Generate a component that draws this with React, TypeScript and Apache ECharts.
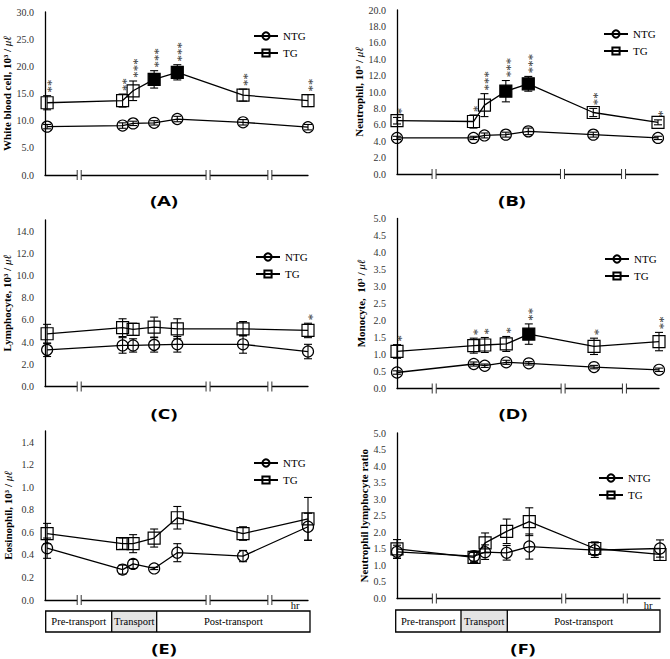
import React, { useEffect, useRef } from 'react';
import * as echarts from 'echarts';

// ---------- data ----------
const timePointsLeft = [0.08, 2.95, 3.35, 4.15, 5.03, 7.53, 10];
const timePointsRight = [0.0, 2.93, 3.35, 4.17, 5.03, 7.52, 10];
const breaksLeft = [1.3, 6.2, 8.55];
const breaksRight = [1.42, 6.34, 8.68];

const wbcNTG = [8.9, 9.1, 9.5, 9.6, 10.3, 9.7, 8.8];
const wbcNTGErr = [0.4, 0.5, 0.4, 0.4, 0.5, 0.5, 0.5];
const wbcTG = [13.3, 13.7, 15.5, 17.6, 18.9, 14.7, 13.7];
const wbcTGErr = [1.3, 1.2, 1.8, 1.6, 1.4, 1.1, 1.1];
const wbcSig = ['**', '**', '***', '***', '***', '**', '**'];
const wbcFilled = [3, 4];

const neuNTG = [4.4, 4.4, 4.7, 4.8, 5.2, 4.8, 4.4];
const neuNTGErr = [0.2, 0.2, 0.3, 0.3, 0.4, 0.3, 0.2];
const neuTG = [6.5, 6.4, 8.4, 10.1, 11.0, 7.5, 6.3];
const neuTGErr = [0.4, 0.8, 1.4, 1.3, 0.9, 0.5, 0.3];
const neuSig = ['*', '*', '***', '***', '***', '**', '*'];
const neuFilled = [3, 4];

const lymNTG = [3.3, 3.7, 3.7, 3.75, 3.8, 3.8, 3.15];
const lymNTGErr = [0.6, 0.7, 0.6, 0.65, 0.7, 0.8, 0.65];
const lymTG = [4.75, 5.3, 5.15, 5.35, 5.2, 5.2, 5.05];
const lymTGErr = [0.85, 0.8, 0.55, 0.9, 0.9, 0.65, 0.65];
const lymSig = ['', '', '', '', '', '', '*'];
const lymFilled: number[] = [];

const monNTG = [0.47, 0.72, 0.67, 0.77, 0.74, 0.63, 0.55];
const monNTGErr = [0.05, 0.06, 0.05, 0.06, 0.05, 0.05, 0.05];
const monTG = [1.09, 1.26, 1.28, 1.31, 1.6, 1.24, 1.38];
const monTGErr = [0.2, 0.22, 0.22, 0.22, 0.3, 0.24, 0.27];
const monSig = ['*', '*', '*', '*', '**', '*', '**'];
const monFilled = [4];

const eosNTG = [0.46, 0.27, 0.32, 0.28, 0.42, 0.39, 0.65];
const eosNTGErr = [0.09, 0.04, 0.04, 0.01, 0.08, 0.05, 0.12];
const eosTG = [0.59, 0.5, 0.5, 0.55, 0.73, 0.59, 0.72];
const eosTGErr = [0.09, 0.05, 0.08, 0.08, 0.1, 0.06, 0.19];
const eosSig = ['', '', '', '', '', '', ''];
const eosFilled: number[] = [];

const nlrNTG = [1.41, 1.28, 1.4, 1.38, 1.57, 1.46, 1.51];
const nlrNTGErr = [0.2, 0.15, 0.22, 0.22, 0.38, 0.22, 0.26];
const nlrTG = [1.5, 1.24, 1.68, 2.03, 2.32, 1.51, 1.33];
const nlrTGErr = [0.28, 0.15, 0.3, 0.37, 0.42, 0.2, 0.18];
const nlrSig = ['', '', '', '', '', '', ''];
const nlrFilled: number[] = [];

const periodLabels = ['Pre-transport', 'Transport', 'Post-transport'];
const panelLetters = ['(A)', '(B)', '(C)', '(D)', '(E)', '(F)'];

// ---------- layout ----------
const SERIF = 'Liberation Serif';

const panels = [
  { title: 'White blood cell, 10³ / {i|μℓ}', max: 30, interval: 5, showMax: true, ntg: wbcNTG, ntgErr: wbcNTGErr, tg: wbcTG, tgErr: wbcTGErr, sig: wbcSig, filled: wbcFilled, xs: timePointsLeft, br: breaksLeft,
    grid: { left: 45, top: 12, width: 263, height: 163 }, nameGap: 32, legend: { left: 253, top: 30 }, label: { x: 164, y: 200 } },
  { title: 'Neutrophil, 10³ / {i|μℓ}', max: 20, interval: 2, showMax: true, ntg: neuNTG, ntgErr: neuNTGErr, tg: neuTG, tgErr: neuTGErr, sig: neuSig, filled: neuFilled, xs: timePointsRight, br: breaksRight,
    grid: { left: 397, top: 10, width: 261, height: 164 }, nameGap: 31, legend: { left: 603, top: 28 }, label: { x: 512, y: 200 } },
  { title: 'Lymphocyte, 10³ / {i|μℓ}', max: 15, interval: 2, showMax: false, ntg: lymNTG, ntgErr: lymNTGErr, tg: lymTG, tgErr: lymTGErr, sig: lymSig, filled: lymFilled, xs: timePointsLeft, br: breaksLeft,
    grid: { left: 45, top: 220, width: 263, height: 166.5 }, nameGap: 32, legend: { left: 255, top: 251 }, label: { x: 164, y: 413 } },
  { title: 'Monocyte,  10³ / {i|μℓ}', max: 5, interval: 0.5, showMax: true, ntg: monNTG, ntgErr: monNTGErr, tg: monTG, tgErr: monTGErr, sig: monSig, filled: monFilled, xs: timePointsRight, br: breaksRight,
    grid: { left: 397, top: 218.5, width: 262, height: 170 }, nameGap: 31, legend: { left: 604, top: 253 }, label: { x: 513, y: 413 } },
  { title: 'Eosinophil, 10³ / {i|μℓ}', max: 1.5, interval: 0.2, showMax: false, ntg: eosNTG, ntgErr: eosNTGErr, tg: eosTG, tgErr: eosTGErr, sig: eosSig, filled: eosFilled, xs: timePointsLeft, br: breaksLeft,
    grid: { left: 45, top: 431, width: 263, height: 169 }, nameGap: 32, legend: { left: 253, top: 457 }, label: { x: 164, y: 648 } },
  { title: 'Neutrophil lymphocyte ratio', max: 5, interval: 0.5, showMax: true, ntg: nlrNTG, ntgErr: nlrNTGErr, tg: nlrTG, tgErr: nlrTGErr, sig: nlrSig, filled: nlrFilled, xs: timePointsRight, br: breaksRight,
    grid: { left: 397, top: 433, width: 263, height: 165.5 }, nameGap: 28, legend: { left: 598, top: 472 }, label: { x: 523, y: 648 } },
];

const boxes = [
  { left: 45.7, right: 310, top: 611, bottom: 632, d1: 111.7, d2: 156.7, hr: { x: 295, y: 605 } },
  { left: 395.7, right: 660, top: 610, bottom: 632, d1: 461, d2: 507.3, hr: { x: 648, y: 605 } },
];

function errSeries(i: number, xs: number[], vals: number[], errs: number[], sig: string[] | null, name: string) {
  return {
    type: 'custom',
    name,
    xAxisIndex: i,
    yAxisIndex: i,
    z: 2,
    silent: true,
    clip: false,
    encode: { x: 0, y: 1 },
    data: xs.map((x, j) => [x, vals[j], errs[j]]),
    renderItem: (params: any, api: any) => {
      const x = api.value(0);
      const v = api.value(1);
      const e = api.value(2);
      const top = api.coord([x, v + e]);
      const bot = api.coord([x, v - e]);
      const cap = 4;
      const st = { stroke: '#000', lineWidth: 1.1 };
      const children: any[] = [
        { type: 'line', shape: { x1: top[0], y1: top[1], x2: bot[0], y2: bot[1] }, style: st },
        { type: 'line', shape: { x1: top[0] - cap, y1: top[1], x2: top[0] + cap, y2: top[1] }, style: st },
        { type: 'line', shape: { x1: bot[0] - cap, y1: bot[1], x2: bot[0] + cap, y2: bot[1] }, style: st },
      ];
      const s = sig ? sig[params.dataIndex] : '';
      if (s) {
        children.push({
          type: 'text',
          x: top[0] + 1.2,
          y: top[1] - 3 - s.length * 3.3,
          rotation: -Math.PI / 2,
          style: {
            text: s, fill: '#333', fontFamily: SERIF, fontSize: 13,
            align: 'center', verticalAlign: 'middle',
          },
        });
      }
      return { type: 'group', children };
    },
  };
}

function breakSeries(i: number, br: number[]) {
  return {
    type: 'custom',
    name: 'breaks',
    xAxisIndex: i,
    yAxisIndex: i,
    z: 5,
    silent: true,
    clip: false,
    encode: { x: 0, y: 1 },
    data: br.map((b) => [b, 0]),
    renderItem: (params: any, api: any) => {
      const p = api.coord([api.value(0), 0]);
      const st = { stroke: '#333', lineWidth: 1 };
      return {
        type: 'group',
        children: [
          { type: 'rect', shape: { x: p[0] - 2, y: p[1] - 2, width: 4, height: 4 }, style: { fill: '#fff' } },
          { type: 'line', shape: { x1: p[0] - 2, y1: p[1] - 5, x2: p[0] - 2, y2: p[1] + 5 }, style: st },
          { type: 'line', shape: { x1: p[0] + 2, y1: p[1] - 5, x2: p[0] + 2, y2: p[1] + 5 }, style: st },
        ],
      };
    },
  };
}

function txt(x: number, y: number, text: string, size: number) {
  return {
    type: 'text', x, y,
    style: { text, fontFamily: SERIF, fontSize: size, fill: '#000', align: 'center', verticalAlign: 'middle' },
  };
}

function buildOption() {
  const grid: any[] = [];
  const xAxis: any[] = [];
  const yAxis: any[] = [];
  const series: any[] = [];
  const legend: any[] = [];
  const graphic: any[] = [];

  panels.forEach((p, i) => {
    grid.push({ ...p.grid, containLabel: false, outerBoundsMode: 'none' });
    xAxis.push({
      type: 'value', gridIndex: i, min: 0, max: 10,
      axisLine: { show: true, onZero: false, lineStyle: { color: '#000', width: 1.3 } },
      axisTick: { show: false }, axisLabel: { show: false }, splitLine: { show: false },
    });
    yAxis.push({
      type: 'value', gridIndex: i, min: 0, max: p.max, interval: p.interval,
      name: p.title, nameLocation: 'middle', nameGap: p.nameGap, nameRotate: 90,
      nameTextStyle: {
        fontFamily: SERIF, fontWeight: 'bold', fontSize: 11, color: '#000',
        rich: { i: { fontFamily: SERIF, fontStyle: 'italic', fontWeight: 'normal', fontSize: 11, color: '#000' } },
      },
      axisLine: { show: true, lineStyle: { color: '#000', width: 1.3 } },
      axisTick: { show: false }, splitLine: { show: false },
      axisLabel: {
        showMaxLabel: p.showMax, showMinLabel: true,
        formatter: (v: number) => v.toFixed(1), fontFamily: SERIF, fontSize: 10, color: '#333', margin: 11,
      },
    });
    series.push({
      type: 'line', name: 'NTG', xAxisIndex: i, yAxisIndex: i, z: 3,
      data: p.xs.map((x, j) => [x, p.ntg[j]]),
      symbol: 'circle', symbolSize: 11,
      itemStyle: { color: 'rgba(255,255,255,0)', borderColor: '#000', borderWidth: 1.2 },
      lineStyle: { color: '#000', width: 1.3 },
    });
    series.push({
      type: 'line', name: 'TG', xAxisIndex: i, yAxisIndex: i, z: 3,
      data: p.xs.map((x, j) => (p.filled.includes(j)
        ? { value: [x, p.tg[j]], itemStyle: { color: '#000' } }
        : [x, p.tg[j]])),
      symbol: 'rect', symbolSize: 12,
      itemStyle: { color: 'rgba(255,255,255,0)', borderColor: '#000', borderWidth: 1.2 },
      lineStyle: { color: '#000', width: 1.3 },
    });
    series.push(errSeries(i, p.xs, p.ntg, p.ntgErr, null, 'errNTG'));
    series.push(errSeries(i, p.xs, p.tg, p.tgErr, p.sig, 'errTG'));
    series.push(breakSeries(i, p.br));
    legend.push({
      data: ['NTG', 'TG'], orient: 'vertical', left: p.legend.left, top: p.legend.top, padding: 0,
      itemWidth: 24, itemHeight: 9, itemGap: 5, selectedMode: false,
      textStyle: { fontFamily: SERIF, fontSize: 11, color: '#000', lineHeight: 12 },
    });
    graphic.push({
      type: 'text', x: p.label.x, y: p.label.y, scaleX: 1.35,
      style: { text: panelLetters[i], fontFamily: 'Open Sans', fontWeight: 'bold', fontSize: 15, fill: '#000', align: 'center', verticalAlign: 'middle' },
    });
  });

  boxes.forEach((b) => {
    const st = { stroke: '#000', lineWidth: 1.3 };
    const ty = (b.top + b.bottom) / 2;
    graphic.push(
      { type: 'rect', shape: { x: b.d1, y: b.top, width: b.d2 - b.d1, height: b.bottom - b.top }, style: { fill: '#e4e4e4' } },
      { type: 'rect', shape: { x: b.left, y: b.top, width: b.right - b.left, height: b.bottom - b.top }, style: { fill: 'none', ...st } },
      { type: 'line', shape: { x1: b.d1, y1: b.top, x2: b.d1, y2: b.bottom }, style: st },
      { type: 'line', shape: { x1: b.d2, y1: b.top, x2: b.d2, y2: b.bottom }, style: st },
      txt((b.left + b.d1) / 2, ty, periodLabels[0], 10.5),
      txt((b.d1 + b.d2) / 2, ty, periodLabels[1], 10.5),
      txt((b.d2 + b.right) / 2, ty, periodLabels[2], 10.5),
      txt(b.hr.x, b.hr.y, 'hr', 10.5),
    );
  });

  return {
    animation: false,
    backgroundColor: '#fff',
    grid, xAxis, yAxis, series, legend, graphic,
  };
}

export default function App() {
  const ref = useRef<HTMLDivElement>(null);
  useEffect(() => {
    document.body.style.margin = '0';
    if (!ref.current) return;
    const chart = echarts.init(ref.current, undefined, { renderer: 'svg' });
    chart.setOption(buildOption() as any);
    return () => chart.dispose();
  }, []);
  return <div ref={ref} style={{ width: 670, height: 659 }} />;
}
